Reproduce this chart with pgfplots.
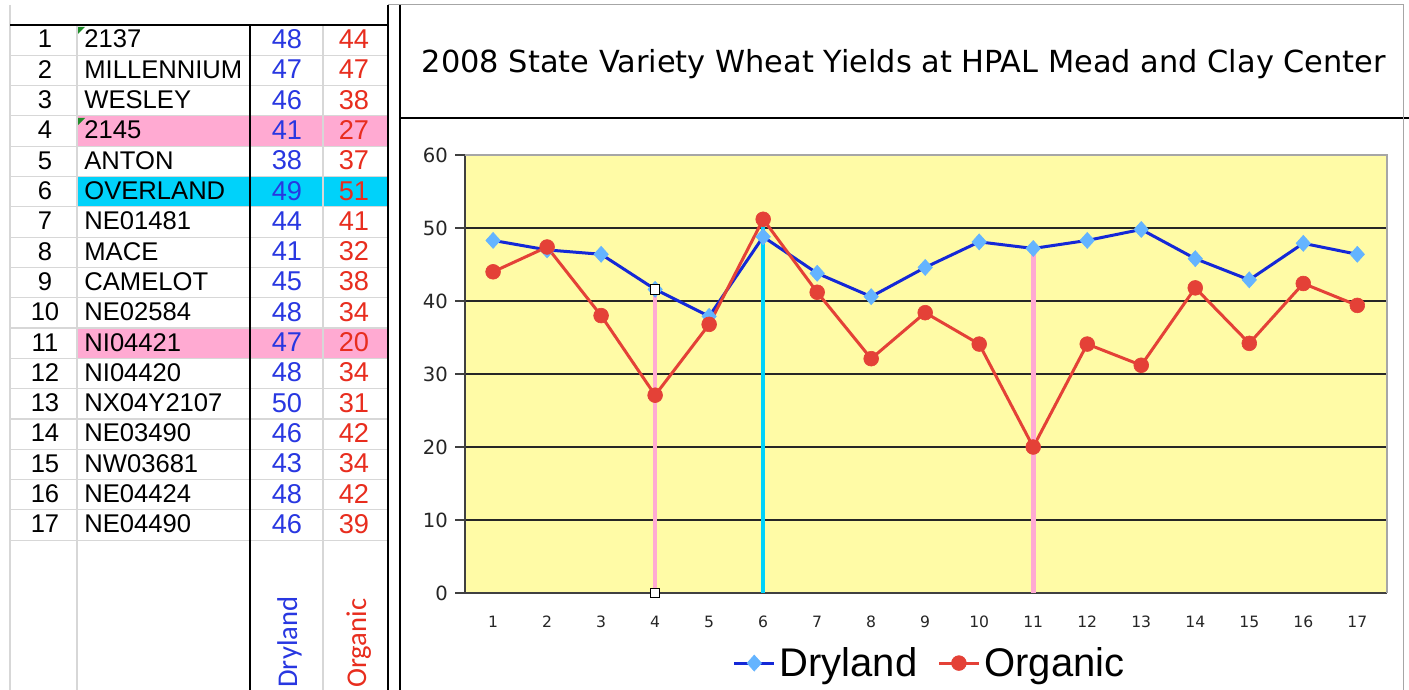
\documentclass[border=0pt]{standalone}
\usepackage{fontspec}
\setmainfont{Liberation Sans}
\newfontfamily\dejavu{DejaVu Sans}
\newfontfamily\carlito{Carlito}
\usepackage{pgfplots}
\pgfplotsset{compat=1.18}
\definecolor{plotyellow}{RGB}{255,251,166}
\definecolor{dryline}{RGB}{20,40,215}
\definecolor{drymark}{RGB}{100,180,255}
\definecolor{orgred}{RGB}{228,65,55}
\definecolor{pinkhl}{RGB}{255,170,210}
\definecolor{cyanhl}{RGB}{0,210,250}
\definecolor{txtblue}{RGB}{40,55,225}
\definecolor{txtred}{RGB}{232,45,30}
\definecolor{gridgray}{RGB}{215,215,215}
\definecolor{commentgreen}{RGB}{30,140,40}
\begin{document}
\begin{tikzpicture}
\begin{scope}[x=0.5pt,y=-0.5pt]
\fill[white] (0,0) rectangle (1409,690);
\path[use as bounding box] (0,0) rectangle (1409,690);
% highlighted rows
\fill[pinkhl] (77,116) rectangle (388,146.5);
\fill[cyanhl] (77,176.5) rectangle (388,207);
\fill[pinkhl] (77,328) rectangle (388,358);
% grid of the sheet
\foreach \i in {1,...,17} \draw[gridgray, line width=0.6pt] (10,{25+30.3*\i}) -- (388,{25+30.3*\i});
\draw[gridgray, line width=0.6pt] (77,25) -- (77,690) (323,25) -- (323,690) (10,5) -- (10,690);
\draw[black, line width=0.6pt] (10,25) -- (388,25);
\draw[black, line width=0.6pt] (250,25) -- (250,690);
\draw[black, line width=0.8pt] (388,5) -- (388,690);
\draw[black, line width=1pt] (400,5) -- (400,690);
\draw[black, line width=1pt] (400,118) -- (1409,118);
\draw[black!35, line width=0.5pt] (388,5) -- (1403,5) -- (1403,690);
% comment markers
\fill[commentgreen] (78,27) -- (85,27) -- (78,34) -- cycle;
\fill[commentgreen] (78,118) -- (85,118) -- (78,125) -- cycle;
% table text
\foreach \name/\d/\o [count=\i] in {2137/48/44, MILLENNIUM/47/47, WESLEY/46/38, 2145/41/27, ANTON/38/37, OVERLAND/49/51, NE01481/44/41, MACE/41/32, CAMELOT/45/38, NE02584/48/34, NI04421/47/20, NI04420/48/34, NX04Y2107/50/31, NE03490/46/42, NW03681/43/34, NE04424/48/42, NE04490/46/39} {
  \node[anchor=base, inner sep=0pt, font=\fontsize{12.8}{14}\selectfont] at (45,{25+30.3*(\i-1)+23}) {\i};
  \node[anchor=base west, inner sep=0pt, font=\fontsize{12.8}{14}\selectfont] at (84,{25+30.3*(\i-1)+23}) {\name};
  \node[anchor=base, inner sep=0pt, text=txtblue, font=\fontsize{13.6}{14}\selectfont] at (287,{25+30.3*(\i-1)+23.5}) {\d};
  \node[anchor=base, inner sep=0pt, text=txtred, font=\fontsize{13.6}{14}\selectfont] at (354,{25+30.3*(\i-1)+23.5}) {\o};
}
\node[rotate=90, anchor=base west, inner sep=0pt, text=txtblue, font=\carlito\fontsize{14.3}{16}\selectfont] at (297,688) {Dryland};
\node[rotate=90, anchor=base west, inner sep=0pt, text=txtred, font=\carlito\fontsize{14.3}{16}\selectfont] at (366,688) {Organic};
% chart title
\node[anchor=base, inner sep=0pt, font=\dejavu\fontsize{15.2}{17}\selectfont] at (904,73) {2008 State Variety Wheat Yields at HPAL Mead and Clay Center};
\end{scope}
\begin{axis}[
  at={(232.5pt,-296.5pt)}, anchor=south west,
  scale only axis, width=461pt, height=219pt,
  xmin=0.48, xmax=17.55, ymin=0, ymax=60,
  xtick={1,...,17}, ytick={0,10,...,60},
  axis background/.style={fill=plotyellow},
  axis x line*=bottom, axis y line*=left,
  axis line style={-, draw=black!75, line width=0.8pt},
  ymajorgrids, grid style={black!85, line width=0.6pt},
  tick align=outside, major tick length=5pt,
  xtick style={draw=none}, ytick style={black!75, line width=0.6pt},
  /pgf/number format/assume math mode=true,
  yticklabel style={font=\dejavu\fontsize{9.8}{10}\selectfont, text=black!85},
  xticklabel style={font=\dejavu\fontsize{7.8}{9}\selectfont, text=black!85, yshift=-3pt},
  legend style={at={(0.505,-0.16)}, anchor=center, draw=none, fill=none,
    font=\fontsize{20}{22}\selectfont, legend columns=2,
    /tikz/every even column/.append style={column sep=8pt}},
  legend image code/.code={\draw[mark repeat=2,mark phase=2,#1] plot coordinates {(0cm,0cm) (0.35cm,0cm) (0.7cm,0cm)};},
  clip=false,
]
\addplot[dryline, line width=1.5pt, mark=diamond*, mark size=4pt,
  mark options={fill=drymark, draw=drymark, line width=0.3pt, xscale=1.2}]
  coordinates {(1,48.3)(2,47.0)(3,46.4)(4,41.6)(5,37.9)(6,48.8)(7,43.8)(8,40.6)(9,44.6)(10,48.1)(11,47.2)(12,48.3)(13,49.8)(14,45.8)(15,42.9)(16,47.9)(17,46.4)};
\addlegendentry{Dryland}
\addplot[orgred, line width=1.5pt, mark=*, mark size=3.7pt,
  mark options={fill=orgred, draw=orgred, line width=0.3pt}]
  coordinates {(1,44.0)(2,47.4)(3,38.0)(4,27.1)(5,36.8)(6,51.2)(7,41.2)(8,32.1)(9,38.4)(10,34.1)(11,20.0)(12,34.1)(13,31.2)(14,41.8)(15,34.2)(16,42.4)(17,39.4)};
\addlegendentry{Organic}
\addplot[pinkhl, line width=2.3pt, forget plot] coordinates {(4,0)(4,41.6)};
\addplot[cyanhl, line width=2.3pt, forget plot] coordinates {(6,0)(6,51.6)};
\addplot[pinkhl, line width=2.3pt, forget plot] coordinates {(11,0)(11,47.0)};
\addplot[only marks, mark=square*, mark size=2.4pt, mark options={fill=white, draw=black, line width=0.5pt}, forget plot] coordinates {(4,0)(4,41.6)};
\draw[black!35, line width=0.6pt] (rel axis cs:0,1) -- (rel axis cs:1,1) -- (rel axis cs:1,0);
\end{axis}
\end{tikzpicture}
\end{document}
